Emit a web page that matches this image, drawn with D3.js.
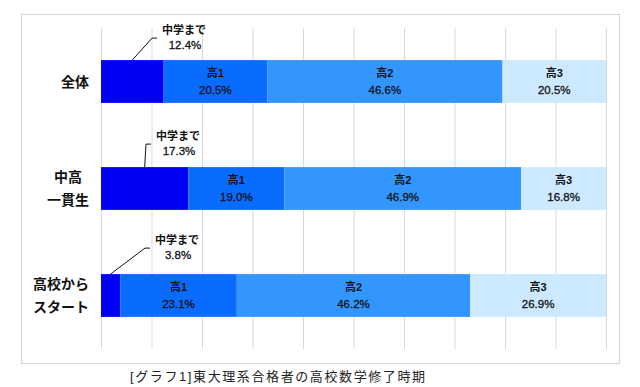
<!DOCTYPE html>
<meta charset="utf-8">
<style>
  body { margin: 0; background: #fff; }
  text { font-family: "Liberation Sans", Arial, "Noto Sans CJK JP", sans-serif; }
</style>
<script src="https://d3js.org/d3.v7.min.js"></script>
<div id="chart"></div>
<script>

// data
var categories = ["全体", "中高\n一貫生", "高校から\nスタート"];
var series = ["中学まで", "高1", "高2", "高3"];
var chugaku = [12.4, 17.3, 3.8];
var kou1 = [20.5, 19.0, 23.1];
var kou2 = [46.6, 46.9, 46.2];
var kou3 = [20.5, 16.8, 26.9];
var xTicks = [0, 10, 20, 30, 40, 50, 60, 70, 80, 90, 100];
var caption = "[グラフ1]東大理系合格者の高校数学修了時期";

var colors = ["#0000f5", "#0a6cff", "#3396ff", "#cde9ff"];

var W = 640, H = 387;
var margin = {top: 28, right: 34, bottom: 38, left: 101};

var svg = d3.select("#chart").append("svg")
  .attr("width", W)
  .attr("height", H);

// outer frame
svg.append("rect")
  .attr("x", 21.5).attr("y", 14.5)
  .attr("width", 598).attr("height", 349)
  .attr("fill", "none")
  .attr("stroke", "#d4d4d4");

var x = d3.scaleLinear()
  .domain([0, 100])
  .range([margin.left, W - margin.right]);

var y = d3.scaleBand()
  .domain(categories)
  .range([margin.top, H - margin.bottom])
  .paddingInner(0.6)
  .paddingOuter(0.3);

// gridlines
svg.append("g")
  .attr("transform", "translate(0," + (H - margin.bottom) + ")")
  .call(d3.axisBottom(x).tickValues(xTicks).tickSize(-(H - margin.bottom - margin.top)).tickFormat(""))
  .call(function(g) {
    g.select(".domain").remove();
    g.selectAll(".tick line").attr("stroke", "#d9d9d9");
  });

// stack rows
var rows = categories.map(function(c, i) {
  return {cat: c, "中学まで": chugaku[i], "高1": kou1[i], "高2": kou2[i], "高3": kou3[i]};
});
var stacked = d3.stack().keys(series)(rows);

var layers = svg.selectAll(".layer")
  .data(stacked)
  .enter().append("g")
    .attr("class", "layer")
    .attr("fill", function(d, i) { return colors[i]; });

layers.selectAll("rect")
  .data(function(d) { return d; })
  .enter().append("rect")
    .attr("x", function(d) { return x(d[0]); })
    .attr("y", function(d) { return y(d.data.cat); })
    .attr("width", function(d) { return x(d[1]) - x(d[0]); })
    .attr("height", y.bandwidth());

// labels inside segments (高1..高3)
stacked.slice(1).forEach(function(layer) {
  layer.forEach(function(d) {
    var cx = (x(d[0]) + x(d[1])) / 2;
    var cy = y(d.data.cat) + y.bandwidth() / 2;
    svg.append("text")
      .attr("x", cx).attr("y", cy - 5)
      .attr("text-anchor", "middle")
      .style("font-size", "11px").style("font-weight", "bold").attr("fill", "#111")
      .text(layer.key);
    svg.append("text")
      .attr("x", cx).attr("y", cy + 12)
      .attr("text-anchor", "middle")
      .style("font-size", "11.5px").attr("fill", "#111")
      .attr("stroke", "#111").attr("stroke-width", 0.3)
      .text(d.data[layer.key].toFixed(1) + "%");
  });
});

// callouts for 中学まで
var callout = [{ex: 51, ey: -22}, {ex: 45, ey: -23}, {ex: 44, ey: -26}];
stacked[0].forEach(function(d, i) {
  var sx = (x(d[0]) + x(d[1])) / 2;
  var top = y(d.data.cat);
  var ex = x(0) + callout[i].ex, ey = top + callout[i].ey;
  svg.append("path")
    .attr("d", "M" + sx + "," + top + "L" + ex + "," + ey + "L" + (ex + 5) + "," + ey)
    .attr("fill", "none").attr("stroke", "#111").attr("stroke-width", 1);
  svg.append("text")
    .attr("x", ex + 32).attr("y", ey - 4)
    .attr("text-anchor", "middle")
    .style("font-size", "11px").style("font-weight", "bold").attr("fill", "#111")
    .text(series[0]);
  svg.append("text")
    .attr("x", ex + 33).attr("y", ey + 11)
    .attr("text-anchor", "middle")
    .style("font-size", "11.5px").attr("fill", "#111")
    .attr("stroke", "#111").attr("stroke-width", 0.3)
    .text(chugaku[i].toFixed(1) + "%");
});

// category labels
categories.forEach(function(c) {
  var lines = c.split("\n");
  var g = svg.append("g");
  var cy = y(c) + y.bandwidth() / 2;
  var t = g.selectAll("text").data(lines).enter().append("text")
    .attr("y", function(d, i) { return cy + (i - (lines.length - 1) / 2) * 23 + 5; })
    .attr("text-anchor", "middle")
    .style("font-size", "14px").style("font-weight", "bold").attr("fill", "#111")
    .text(function(d) { return d; });
  var maxW = d3.max(t.nodes(), function(n) { return n.getComputedTextLength(); });
  t.attr("x", 89 - maxW / 2);
});

// caption
svg.append("text")
  .attr("x", 130).attr("y", 381)
  .style("font-size", "13px").style("letter-spacing", "1.6px").attr("fill", "#222")
  .text(caption);

</script>
